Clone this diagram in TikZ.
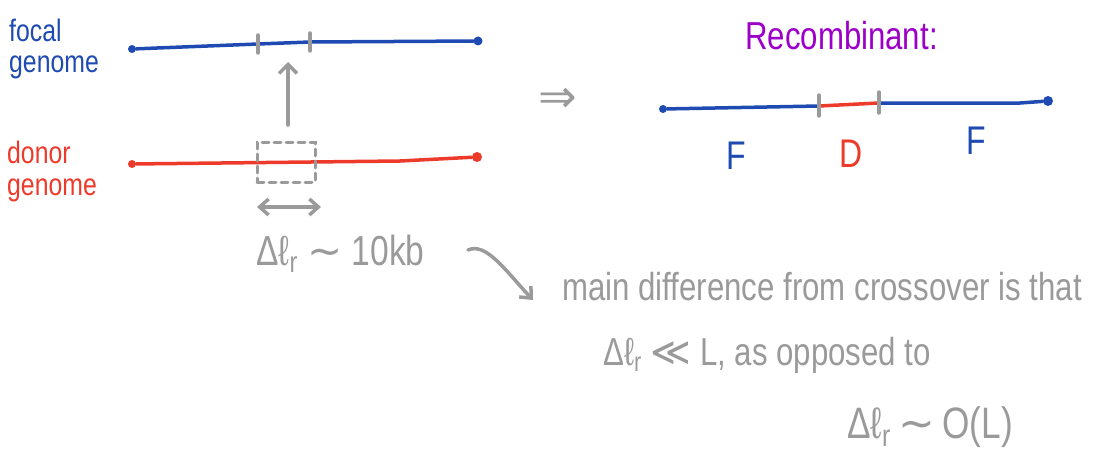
\documentclass[tikz,border=0pt]{standalone}
\usepackage{fontspec}
\setmainfont{Liberation Sans}
\newfontfamily\hand[FakeStretch=0.8]{Liberation Sans}
\newfontfamily\handsym{DejaVu Sans}
\usetikzlibrary{positioning,arrows.meta}
\definecolor{fblue}{RGB}{30,74,178}
\definecolor{dred}{RGB}{238,58,42}
\definecolor{hgray}{RGB}{154,154,154}
\definecolor{rpurple}{RGB}{156,0,200}
\newcommand{\dlr}{Δℓ\textsubscript{r}}

\begin{document}
\begin{tikzpicture}[x=1pt, y=-1pt, line cap=round,
  dot/.style={circle, fill, inner sep=0pt, minimum size=8pt},
  genome/.style={line width=3.5pt},
  cut/.style={draw=hgray, line width=3.5pt},
  hand/.style={inner sep=0pt, anchor=base west}]
\useasboundingbox (0,0) rectangle (1097,452);
% Genoma focal (em cima)
\node[hand, align=left, fblue, font=\hand\fontsize{31}{30}\selectfont] (focal) at (9,72) {focal\\genome};
\node[dot, fblue] (f0) at (132,49) {};
\node[dot, fblue, minimum size=9pt] (f1) at (478,41) {};
\coordinate (fa) at (258,44);
\coordinate (fb) at (310,42);
\draw[genome, fblue] (f0) -- (fa) -- (fb) -- (f1);
\draw[cut] ([yshift=9pt]fa) -- ([yshift=-9pt]fa);
\draw[cut] ([yshift=9pt]fb) -- ([yshift=-9pt]fb);
% Genoma doador (embaixo)
\node[hand, align=left, dred, font=\hand\fontsize{31}{32}\selectfont] (donor) at (7,195) {donor\\genome};
\node[dot, dred] (d0) at (132,164) {};
\node[dot, dred, minimum size=10pt] (d1) at (477,157) {};
\coordinate (dk) at (400,161);
\draw[genome, dred] (d0) -- (dk) -- (d1);
% Segmento transferido
\node[draw=hgray, dashed, dash pattern=on 7pt off 5pt, line width=3pt,
      minimum width=58pt, minimum height=40pt] (seg) at (286,162) {};
\coordinate (up0) at (288,125);
\coordinate (up1) at (288,62);
\draw[cut, -{Straight Barb[length=9pt,width=18pt]}] (up0) -- (up1);
\coordinate (w0) at (257,207);
\coordinate (w1) at (321,207);
\draw[cut, {Straight Barb[length=9pt,width=16pt]}-{Straight Barb[length=9pt,width=16pt]}] (w0) -- (w1);
\node[hand, hgray, font=\hand\fontsize{42}{42}\selectfont] (len) at (256,265) {\dlr\ {\handsym∼}\ 10kb};
% Recombinante
\node[hgray, font=\handsym\fontsize{46}{46}\selectfont] (impl) at (558,100) {⇒};
\node[hand, rpurple, font=\hand\fontsize{39}{40}\selectfont] (recomb) at (745,50) {Recombinant:};
\node[dot, fblue] (r0) at (663,109) {};
\node[dot, fblue, minimum size=10pt] (r1) at (1048,101) {};
\coordinate (ra) at (819,106);
\coordinate (rb) at (879,103);
\coordinate (rk) at (1020,103);
\draw[genome, fblue] (r0) -- (ra);
\draw[genome, dred] (ra) -- (rb);
\draw[genome, fblue] (rb) -- (rk) -- (r1);
\draw[cut] ([yshift=11pt]ra) -- ([yshift=-10pt]ra);
\draw[cut] ([yshift=11pt]rb) -- ([yshift=-10pt]rb);
\node[hand, fblue, font=\hand\fontsize{40}{40}\selectfont] (partF) at (726,169) {F};
\node[hand, dred, font=\hand\fontsize{40}{40}\selectfont] (partD) at (839,167) {D};
\node[hand, fblue, font=\hand\fontsize{40}{40}\selectfont] (partG) at (966,154) {F};
% Nota
\coordinate (n0) at (468,250);
\coordinate (n1) at (533,300);
\draw[cut, -{Straight Barb[length=9pt,width=16pt]}] (n0) .. controls (486,242) and (505,270) .. (n1);
\node[hand, hgray, font=\hand\fontsize{39}{40}\selectfont] (note1) at (562,300) {main difference from crossover is that};
\node[hand, hgray, font=\hand\fontsize{39}{40}\selectfont] (note2) at (603,365) {\dlr\ {\handsym≪}\ L, as opposed to};
\node[hand, hgray, font=\hand\fontsize{44}{44}\selectfont] (note3) at (847,438) {\dlr\,{\handsym∼}\,O(L)};
\end{tikzpicture}
\end{document}
